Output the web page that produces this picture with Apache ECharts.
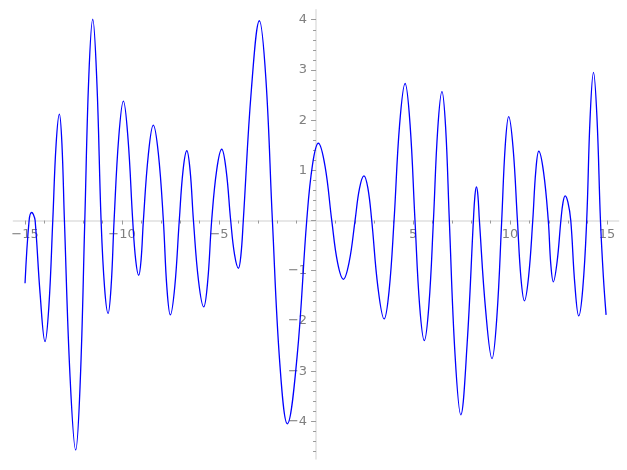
<!DOCTYPE html>
<html>
<head>
<meta charset="utf-8">
<script src="https://cdn.jsdelivr.net/npm/echarts@6/dist/echarts.min.js"></script>
<style>html,body{margin:0;padding:0;background:#fff}#c{width:627px;height:470px}</style>
</head>
<body>
<div id="c"></div>
<script>
const curveX = [-15, -14.79, -14.66,
  -14.57, -14.48, -14.225, -13.97,
  -13.77, -13.57, -13.40, -13.23,
  -13.10, -12.97, -12.68, -12.39,
  -12.155, -11.92, -11.715, -11.51,
  -11.295, -11.08, -10.90, -10.72,
  -10.565, -10.41, -10.17, -9.93,
  -9.69, -9.45, -9.295, -9.14,
  -9.02, -8.90, -8.645, -8.39,
  -8.13, -7.87, -7.69, -7.51,
  -7.28, -7.05, -6.855, -6.66,
  -6.49, -6.32, -6.055, -5.79,
  -5.585, -5.38, -5.12, -4.86,
  -4.63, -4.40, -4.20, -4.0,
  -3.875, -3.75, -3.335, -2.92,
  -2.585, -2.25, -1.865, -1.48,
  -0.98, -0.48, -0.18, 0.12,
  0.465, 0.81, 1.11, 1.41,
  1.71, 2.01, 2.24, 2.47,
  2.67, 2.87, 3.19, 3.51,
  3.765, 4.02, 4.305, 4.59,
  4.845, 5.10, 5.34, 5.58,
  5.815, 6.05, 6.27, 6.49,
  6.68, 6.87, 7.165, 7.46,
  7.785, 8.11, 8.19, 8.27,
  8.345, 8.42, 8.745, 9.07,
  9.32, 9.57, 9.75, 9.93,
  10.155, 10.38, 10.56, 10.74,
  10.955, 11.17, 11.325, 11.48,
  11.725, 11.97, 12.10, 12.23,
  12.425, 12.62, 12.73, 12.84,
  12.985, 13.13, 13.335, 13.54,
  13.745, 13.95, 14.125, 14.30,
  14.48, 14.66, 14.81, 14.95];
const curveY = [-1.25, 0, 0.16,
  0.12, 0, -1.45, -2.41,
  -1.70, 0, 1.51, 2.12,
  1.54, 0, -3.11, -4.57,
  -3.21, 0, 2.85, 4.01,
  2.73, 0, -1.34, -1.85,
  -1.32, 0, 1.66, 2.38,
  1.62, 0, -0.79, -1.09,
  -0.79, 0, 1.31, 1.90,
  1.34, 0, -1.33, -1.88,
  -1.31, 0, 1.00, 1.39,
  0.99, 0, -1.21, -1.72,
  -1.21, 0, 1.01, 1.42,
  0.99, 0, -0.68, -0.95,
  -0.70, 0, 2.60, 3.98,
  2.82, 0, -2.86, -4.05,
  -2.72, 0, 1.12, 1.54,
  1.08, 0, -0.84, -1.17,
  -0.82, 0, 0.64, 0.89,
  0.65, 0, -1.33, -1.96,
  -1.40, 0, 1.90, 2.73,
  1.92, 0, -1.70, -2.39,
  -1.70, 0, 1.81, 2.57,
  1.85, 0, -2.68, -3.87,
  -2.47, 0, 0.50, 0.67,
  0.49, 0, -1.80, -2.75,
  -1.92, 0, 1.48, 2.07,
  1.45, 0, -1.14, -1.60,
  -1.12, 0, 0.98, 1.38,
  0.97, 0, -0.87, -1.22,
  -0.82, 0, 0.36, 0.49,
  0.36, 0, -1.25, -1.90,
  -1.37, 0, 2.04, 2.95,
  2.05, 0, -1.12, -1.88];
const xLabels = [-15, -10, -5, 5, 10, 15];
const xMinor = [-14, -13, -12, -11, -9, -8, -7, -6, -4, -3, -2, -1, 1, 2, 3, 4, 6, 7, 8, 9, 11, 12, 13, 14];
const yLabels = [-4, -3, -2, -1, 1, 2, 3, 4];
const yMajorTicks = [-4, -3, -2, -1, 0, 1, 2, 3, 4];
const yMinor = [-4.6, -4.4, -4.2, -3.8, -3.6, -3.4, -3.2, -2.8, -2.6, -2.4, -2.2, -1.8, -1.6, -1.4, -1.2, -0.8, -0.6, -0.4, -0.2, 0.2, 0.4, 0.6, 0.8, 1.2, 1.4, 1.6, 1.8, 2.2, 2.4, 2.6, 2.8, 3.2, 3.4, 3.6, 3.8];

const X_MIN = -15.6, X_MAX = 15.6, Y_MIN = -4.75, Y_MAX = 4.2;
const W = 627, H = 470;
const G = {left: 13.4, right: 8.3, top: 9.7, bottom: 11};
const gw = W - G.left - G.right, gh = H - G.top - G.bottom;
// offsets that move the axes onto the zero lines
const xOff = -(gh * (0 - Y_MIN) / (Y_MAX - Y_MIN));
const yOff = -(gw * (0 - X_MIN) / (X_MAX - X_MIN));

const fmt = v => v < 0 ? '\u2212' + Math.abs(v) : String(v);
const tickColor = '#9a9a9a';
const axisLineStyle = {color: '#e0e0e0', width: 1.5};
const labelStyle = {color: '#808080', fontSize: 13, fontFamily: 'DejaVu Sans'};

const chart = echarts.init(document.getElementById('c'), null, {renderer: 'canvas'});
chart.setOption({
  animation: false,
  grid: {left: G.left, right: G.right, top: G.top, bottom: G.bottom, containLabel: false, outerBoundsMode: 'none'},
  xAxis: [
    {type: 'value', min: X_MIN, max: X_MAX, position: 'bottom', offset: xOff,
     axisLine: {show: true, onZero: false, lineStyle: axisLineStyle},
     axisTick: {show: true, customValues: xLabels, length: 4, lineStyle: {color: tickColor}},
     axisLabel: {show: true, customValues: xLabels, formatter: fmt, margin: 8, hideOverlap: false, ...labelStyle},
     splitLine: {show: false}},
    {type: 'value', min: X_MIN, max: X_MAX, position: 'bottom', offset: xOff,
     axisLine: {show: false, onZero: false},
     axisTick: {show: true, customValues: xMinor, length: 3, lineStyle: {color: tickColor}},
     axisLabel: {show: false},
     splitLine: {show: false}}
  ],
  yAxis: [
    {type: 'value', min: Y_MIN, max: Y_MAX, position: 'left', offset: yOff,
     axisLine: {show: true, onZero: false, lineStyle: axisLineStyle},
     axisTick: {show: true, customValues: yMajorTicks, length: 5, lineStyle: {color: tickColor}},
     axisLabel: {show: true, customValues: yLabels, formatter: fmt, margin: 9, hideOverlap: false, ...labelStyle},
     splitLine: {show: false}},
    {type: 'value', min: Y_MIN, max: Y_MAX, position: 'left', offset: yOff,
     axisLine: {show: false, onZero: false},
     axisTick: {show: true, customValues: yMinor, length: 3, lineStyle: {color: tickColor}},
     axisLabel: {show: false},
     splitLine: {show: false}}
  ],
  series: [{
    type: 'line', xAxisIndex: 0, yAxisIndex: 0,
    data: curveX.map((x, i) => [x, curveY[i]]),
    smooth: 0.4, showSymbol: false, symbol: 'none',
    lineStyle: {color: '#0000ff', width: 1.3}
  }]
});
</script>
</body>
</html>
